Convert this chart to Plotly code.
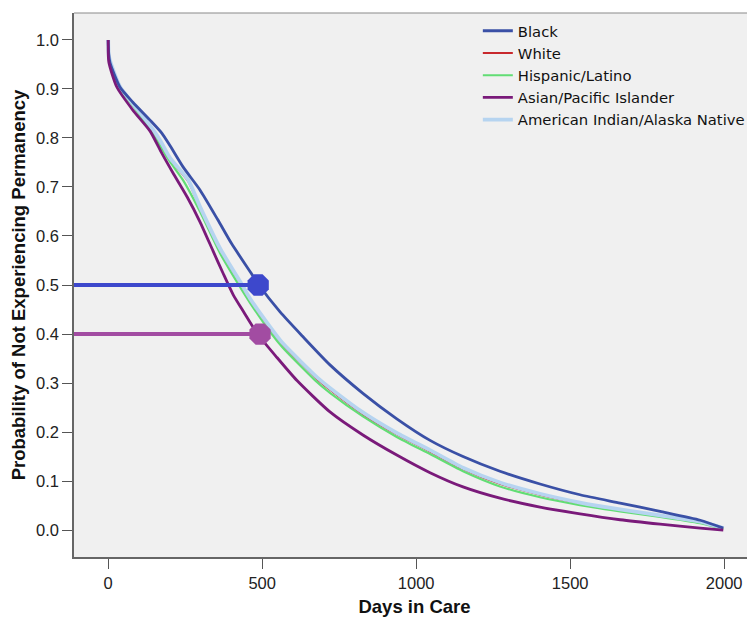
import plotly.graph_objects as go

# Days in care (x) and survival probability (y)
black_days = [0, 2, 6, 38, 80, 135, 174, 200, 243, 298, 356, 400, 461, 487, 558, 630, 720, 827, 937, 1045, 1152, 1272, 1402, 1532, 1662, 1792, 1922, 1997]
black_prob = [1.0, 0.97, 0.953, 0.904, 0.873, 0.837, 0.810, 0.785, 0.741, 0.694, 0.633, 0.585, 0.527, 0.502, 0.445, 0.396, 0.337, 0.279, 0.227, 0.183, 0.150, 0.120, 0.094, 0.072, 0.055, 0.038, 0.020, 0.004]

white_days = [0, 3, 38, 80, 135, 168, 200, 260, 298, 363, 435, 461, 531, 567, 681, 720, 827, 937, 1045, 1152, 1272, 1402, 1532, 1662, 1792, 1922, 1997]
white_prob = [1.0, 0.963, 0.903, 0.868, 0.823, 0.793, 0.757, 0.711, 0.656, 0.571, 0.497, 0.468, 0.406, 0.377, 0.306, 0.286, 0.236, 0.195, 0.160, 0.124, 0.094, 0.072, 0.054, 0.040, 0.028, 0.015, 0.003]

hisp_days = [0, 3, 38, 80, 135, 157, 200, 243, 298, 363, 424, 461, 531, 567, 671, 720, 827, 937, 1045, 1152, 1272, 1402, 1532, 1662, 1792, 1922, 1997]
hisp_prob = [1.0, 0.96, 0.90, 0.866, 0.818, 0.796, 0.752, 0.714, 0.650, 0.565, 0.50, 0.463, 0.40, 0.372, 0.306, 0.280, 0.232, 0.190, 0.155, 0.120, 0.089, 0.067, 0.051, 0.038, 0.027, 0.014, 0.002]

asian_days = [0, 2, 28, 80, 136, 174, 210, 256, 298, 340, 373, 406, 440, 485, 548, 613, 720, 827, 937, 1045, 1152, 1272, 1402, 1532, 1662, 1792, 1922, 1997]
asian_prob = [1.0, 0.955, 0.904, 0.857, 0.814, 0.769, 0.729, 0.680, 0.629, 0.570, 0.524, 0.480, 0.445, 0.40, 0.352, 0.305, 0.241, 0.194, 0.153, 0.117, 0.088, 0.065, 0.047, 0.033, 0.021, 0.012, 0.004, 0.0]

aian_days = [0, 3, 38, 80, 135, 168, 200, 260, 298, 363, 435, 461, 531, 567, 681, 720, 827, 937, 1045, 1152, 1272, 1402, 1532, 1662, 1792, 1922, 1997]
aian_prob = [1.0, 0.965, 0.905, 0.870, 0.826, 0.796, 0.760, 0.714, 0.660, 0.575, 0.50, 0.472, 0.41, 0.381, 0.310, 0.290, 0.240, 0.198, 0.163, 0.127, 0.097, 0.074, 0.056, 0.042, 0.030, 0.017, 0.004]

# Median / reference markers
median_labels = ["Black", "Asian/Pacific Islander"]
median_days = [487, 493]
median_prob = [0.5, 0.4]

x_ticks = [0, 500, 1000, 1500, 2000]
y_ticks = [0.0, 0.1, 0.2, 0.3, 0.4, 0.5, 0.6, 0.7, 0.8, 0.9, 1.0]
x_range = [-111, 2100]
y_range = [-0.055, 1.055]

FONT = "Liberation Sans, Arial, sans-serif"

fig = go.Figure()

series = [
    # name, x, y, color, width, legendrank
    ("White", white_days, white_prob, "#c8282d", 1.8, 2),
    ("Hispanic/Latino", hisp_days, hisp_prob, "#62dd74", 2.2, 3),
    ("American Indian/Alaska Native", aian_days, aian_prob, "#b6d4f0", 3.8, 5),
    ("Black", black_days, black_prob, "#3a50a6", 2.8, 1),
    ("Asian/Pacific Islander", asian_days, asian_prob, "#7a1a7a", 2.8, 4),
]
for name, xs, ys, col, w, rank in series:
    fig.add_trace(go.Scatter(x=xs, y=ys, mode="lines", name=name,
                             line=dict(color=col, width=w, shape="spline", smoothing=0.6),
                             legendrank=rank, hoverinfo="skip"))

marker_colors = ["#3d48cc", "#a24ca2"]
for lab, d, p, col in zip(median_labels, median_days, median_prob, marker_colors):
    fig.add_trace(go.Scatter(x=[x_range[0], d], y=[p, p], mode="lines",
                             line=dict(color=col, width=4), showlegend=False,
                             hoverinfo="skip"))
    fig.add_trace(go.Scatter(x=[d], y=[p], mode="markers", showlegend=False,
                             marker=dict(symbol="octagon", size=23, color=col,
                                         line=dict(width=0)),
                             hoverinfo="skip"))

fig.add_shape(type="line", xref="paper", yref="paper", x0=0, x1=1, y0=1, y1=1,
              line=dict(color="#8a8a8a", width=1.2))

# page body has an 8px margin, so the figure is sized to the visible area
fig.update_layout(
    width=747, height=610,
    margin=dict(l=66, r=0, t=5, b=61, autoexpand=False),
    paper_bgcolor="white",
    plot_bgcolor="#f0f0f0",
    font=dict(family=FONT, size=16, color="#222222"),
    showlegend=True,
    legend=dict(x=0.593, y=0.997, xanchor="left", yanchor="top",
                bgcolor="rgba(0,0,0,0)",
                font=dict(family="DejaVu Sans, sans-serif", size=14.8, color="#111111"),
                tracegroupgap=0, itemwidth=30, traceorder="normal"),
    xaxis=dict(range=x_range, tickvals=x_ticks, ticks="outside", ticklen=10,
               tickcolor="#555555", showline=True, linecolor="#666666", linewidth=1.5,
               showgrid=False, zeroline=False, tickfont=dict(size=16.5), automargin=False,
               title=dict(text="<b>Days in Care</b>", font=dict(size=18.5, color="#111111"),
                          standoff=10)),
    yaxis=dict(range=y_range, tickvals=y_ticks, tickformat=".1f", ticks="outside",
               ticklen=10, tickcolor="#555555", showline=True, linecolor="#666666",
               linewidth=1.5, showgrid=False, zeroline=False, tickfont=dict(size=16.5),
               automargin=False,
               title=dict(text="<b>Probability of Not Experiencing Permanency</b>",
                          font=dict(size=18.5, color="#111111"), standoff=6)),
)

fig.write_html("out.html")
